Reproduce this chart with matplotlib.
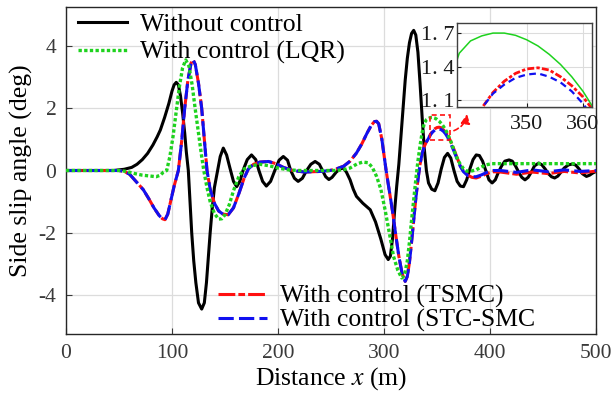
import numpy as np
import matplotlib
matplotlib.use("Agg")
import matplotlib.pyplot as plt
from matplotlib.patches import Rectangle

plt.rcParams['font.family'] = ['Liberation Serif', 'DejaVu Serif']
plt.rcParams['mathtext.fontset'] = 'stix'

# ---------------- data (distance m, side slip angle deg) ----------------
black_pts = [(0,0),(45,0),(55,0.04),(62,0.1),(67,0.2),(72,0.35),(77,0.55),(82,0.82),(86,1.08),(89,1.3),
    (93,1.7),(97,2.15),(100,2.55),(102,2.75),(104,2.83),(106,2.75),(108,2.4),(110,1.85),(112,1.2),(113.5,0.6),
    (115.4,0),(117,-1.0),(118.6,-2.0),(120.5,-2.9),(122.5,-3.6),(125,-4.25),(128,-4.45),(130.5,-4.25),(132.5,-3.6),
    (134.5,-2.7),(136,-2.0),(138,-1.2),(140,-0.55),(143,0.0),(145.5,0.45),(148.4,0.72),(151.5,0.5),(154.5,0.1),
    (158,-0.35),(161,-0.52),(164,-0.35),(167,0.0),(171,0.35),(175,0.5),(179,0.35),(182,0.0),(185.5,-0.35),
    (189,-0.5),(193,-0.35),(197,0.0),(201,0.33),(205,0.45),(209,0.33),(212,0.0),(215.5,-0.25),(219,-0.35),
    (223,-0.25),(227,0.0),(231,0.2),(235,0.29),(239,0.2),(242,0.0),(245,-0.2),(248,-0.29),(251,-0.22),
    (255,-0.05),(258.5,0.05),(261.6,0.08),(264.5,-0.05),(268,-0.3),(271,-0.6),(274,-0.83),(280,-1.05),
    (287,-1.26),(292,-1.65),(297,-2.2),(301,-2.7),(304,-2.86),(306,-2.75),(308,-2.2),(310,-1.3),(312,-0.5),
    (314,0.2),(316,1.1),(318,2.0),(320,2.9),(322,3.6),(324,4.1),(326,4.4),(328,4.5),(330,4.35),(332,3.8),
    (334,2.8),(336,1.7),(338,0.7),(340,0.0),(342,-0.4),(345,-0.6),(348,-0.65),(351,-0.4),(354,0.05),
    (357,0.42),(360,0.55),(363,0.4),(366,0.0),(369,-0.35),(372,-0.5),(375,-0.52),(378,-0.3),(381,0.05),
    (384,0.35),(387,0.5),(390,0.48),(393,0.3),(396,0.0),(399,-0.3),(402,-0.4),(405,-0.3),(408,-0.05),
    (411,0.15),(414,0.3),(418,0.34),(421,0.3),(424,0.15),(427,-0.05),(430,-0.22),(433,-0.3),(436,-0.22),
    (439,-0.05),(442,0.15),(446,0.24),(449,0.18),(452,0.05),(455,-0.1),(458,-0.2),(461,-0.24),(464,-0.18),
    (467,-0.05),(470,0.08),(474,0.18),(478,0.21),(481,0.17),(484,0.05),(487,-0.1),(491,-0.19),(494,-0.15),
    (497,-0.08),(500,-0.03)]

lqr_pts = [(0,0),(50,0),(57,-0.03),(65,-0.1),(72,-0.15),(80,-0.18),(85,-0.2),(89,-0.15),(92,-0.05),(95,0.0),
    (98,0.45),(101,1.1),(104,1.9),(107,2.7),(110,3.3),(113,3.55),(116,3.35),(119,2.75),(122,1.95),(125,1.2),
    (128,0.45),(130,0.0),(133,-0.55),(136,-1.0),(140,-1.38),(144,-1.56),(147,-1.55),(150,-1.42),(154,-1.1),
    (158,-0.65),(163,-0.2),(168,0.05),(175,0.15),(183,0.2),(192,0.15),(200,0.08),(210,0.02),(220,0.0),
    (240,0.0),(255,0.0),(262,0.03),(268,0.08),(275,0.22),(280,0.27),(285,0.25),(289,0.1),(293,-0.19),
    (297,-0.6),(301,-1.26),(305,-2.0),(309,-2.76),(313,-3.2),(316.7,-3.45),(318,-3.42),(320,-3.25),
    (322,-2.9),(324,-2.3),(326,-1.6),(328,-0.95),(330,-0.3),(332,0.3),(334,0.8),(336,1.22),(338,1.52),
    (340,1.63),(342,1.675),(344,1.70),(346,1.70),(348,1.68),(350,1.64),(352,1.585),(354,1.51),(356,1.42),
    (358,1.31),(360,1.18),(362,1.02),(364,0.85),(366,0.65),(368,0.47),(370,0.32),(372,0.2),(375,0.06),
    (378,-0.02),(382,-0.02),(387,0.02),(391,0.1),(396,0.18),(402,0.22),(450,0.22),(500,0.22)]

tsmc_pts = [(0,0),(50,0),(55,-0.03),(60,-0.12),(66,-0.35),(73,-0.62),(78,-0.9),(83,-1.2),(88,-1.45),(91,-1.55),
    (93.4,-1.58),(96,-1.4),(99,-0.95),(102,-0.5),(106,0.0),(109,0.9),(112,2.0),(115,2.9),(118,3.45),(120,3.55),
    (122,3.4),(125,2.8),(128,2.0),(130.5,1.0),(133,0.0),(136,-0.6),(140,-1.05),(144,-1.3),(148,-1.4),
    (153,-1.42),(158,-1.2),(163,-0.75),(168,-0.25),(172,0.05),(177,0.2),(183,0.27),(191,0.29),(198,0.22),
    (205,0.1),(214,0.0),(225,-0.05),(240,-0.03),(249,0.0),(255,0.05),(262,0.14),(268,0.3),(274,0.56),
    (279,0.85),(284,1.2),(288,1.45),(291,1.57),(293,1.58),(295,1.5),(298,1.0),(300,0.5),(302,0.0),
    (305,-0.65),(308,-1.3),(311,-2.05),(314,-2.75),(317,-3.3),(320,-3.56),(322,-3.4),(324,-2.95),
    (326,-2.3),(328,-1.6),(330,-0.9),(332,-0.3),(334,0.2),(336,0.55),(338,0.77),(340,0.92),(342,1.03),
    (344,1.17),(346,1.27),(348,1.34),(350,1.38),(352,1.39),(354,1.37),(356,1.31),(358,1.23),(360,1.13),
    (362,1.0),(364,0.85),(366,0.68),(368,0.5),(370,0.32),(372,0.15),(375,-0.02),(379,-0.15),(383,-0.22),
    (387,-0.24),(392,-0.18),(397,-0.1),(403,-0.04),(410,-0.05),(425,-0.12),(440,-0.05),(455,-0.1),
    (470,-0.03),(485,-0.08),(500,-0.02)]

stc_pts = [(0,0),(50,0),(55,-0.03),(60,-0.12),(66,-0.35),(73,-0.62),(78,-0.9),(83,-1.2),(88,-1.45),(91,-1.55),
    (93.4,-1.58),(96,-1.4),(99,-0.95),(102,-0.5),(106,0.0),(109,0.9),(112,2.0),(115,2.9),(118,3.45),(120,3.55),
    (122,3.4),(125,2.8),(128,2.0),(130.5,1.0),(133,0.0),(136,-0.6),(140,-1.05),(144,-1.3),(148,-1.4),
    (153,-1.42),(158,-1.2),(163,-0.75),(168,-0.25),(172,0.05),(177,0.2),(183,0.27),(191,0.29),(198,0.22),
    (205,0.1),(214,0.0),(225,-0.05),(240,-0.03),(249,0.0),(255,0.05),(262,0.14),(268,0.3),(274,0.56),
    (279,0.85),(284,1.2),(288,1.45),(291,1.57),(293,1.58),(295,1.5),(298,1.0),(300,0.5),(302,0.0),
    (305,-0.65),(308,-1.3),(311,-2.05),(314,-2.75),(317,-3.3),(320,-3.56),(322,-3.4),(324,-2.95),
    (326,-2.3),(328,-1.6),(330,-0.9),(332,-0.3),(334,0.2),(336,0.55),(338,0.77),(340,0.92),(342,1.03),
    (344,1.16),(346,1.24),(348,1.3),(350,1.33),(352,1.34),(354,1.31),(356,1.26),(358,1.18),(360,1.07),
    (362,0.93),(364,0.78),(366,0.62),(368,0.45),(370,0.29),(372,0.13),(375,-0.04),(379,-0.16),(383,-0.2),
    (387,-0.2),(392,-0.14),(397,-0.06),(403,0.0),(410,0.0),(425,-0.06),(440,0.02),(455,-0.04),
    (470,0.02),(485,-0.03),(500,0.0)]

labels = ["Without control", "With control (LQR)", "With control (TSMC)", "With control (STC-SMC"]
x_ticks = [0, 100, 200, 300, 400, 500]
y_ticks = [-4, -2, 0, 2, 4]
inset_xticks = [350, 360]
inset_yticks = [1.1, 1.4, 1.7]
inset_ylabels = ["1. 1", "1. 4", "1. 7"]

bx, by = np.array(black_pts).T
gx, gy = np.array(lqr_pts).T
rx, ry = np.array(tsmc_pts).T
ux, uy = np.array(stc_pts).T

GREEN = '#1ed21e'
RED = '#ff1010'
BLUE = '#1010f0'

fig = plt.figure(figsize=(6.13, 3.99), dpi=100)
ax = fig.add_axes([66/613, (399-334)/399, 530/613, 327/399])

l_black, = ax.plot(bx, by, color='black', lw=2.2, zorder=3, label=labels[0])
l_red, = ax.plot(rx, ry, color=RED, lw=2.2, dashes=(5.5, 1.0, 2.2, 1.0), zorder=4, label=labels[2])
l_blue, = ax.plot(ux, uy, color=BLUE, lw=2.2, dashes=(5, 1.7), zorder=5, label=labels[3])
l_green, = ax.plot(gx, gy, color=GREEN, lw=2.4, dashes=(1, 0.7), zorder=6, label=labels[1])

ax.set_xlim(0, 500)
ax.set_ylim(-5.25, 5.25)
ax.set_xticks(x_ticks)
ax.set_yticks(y_ticks)
ax.set_yticklabels([str(v) for v in y_ticks])
ax.grid(True, color='#dcdcdc', lw=0.9)
ax.set_axisbelow(True)
ax.tick_params(direction='in', length=4, colors='#3a3a3a', labelsize=15.5, pad=7)
for s in ax.spines.values():
    s.set_color('#262626')
    s.set_linewidth(1.0)
ax.set_xlabel('Distance $x$ (m)', fontsize=18.5, labelpad=2)
ax.set_ylabel('Side slip angle (deg)', fontsize=18.5, labelpad=4)

leg1 = ax.legend(handles=[l_black, l_green], loc='upper left', bbox_to_anchor=(0.0226, 0.982),
                 frameon=False, fontsize=18.5, handlelength=1.9, handletextpad=0.5,
                 borderpad=0, borderaxespad=0, labelspacing=0.2)
ax.add_artist(leg1)
leg2 = ax.legend(handles=[l_red, l_blue], loc='upper left', bbox_to_anchor=(0.287, 0.15),
                 frameon=False, fontsize=18.5, handlelength=1.9, handletextpad=0.5,
                 borderpad=0, borderaxespad=0, labelspacing=0.02)

# zoom box and arrow
ax.add_patch(Rectangle((343.4, 0.98), 18.9, 0.8, fill=False, ec=RED, lw=1.2, ls=(0, (3, 2)), zorder=7))
ax.annotate('', xy=(378.5, 1.9), xytext=(363.5, 1.25),
            arrowprops=dict(arrowstyle='-|>', color=RED, lw=1.2, ls=(0, (3, 2)),
                            connectionstyle='arc3,rad=0.35', mutation_scale=14), zorder=8)

# inset
axi = fig.add_axes([457/613, (399-107)/399, 135/613, 84/399])
axi.plot(bx, by, color='black', lw=1.5)
axi.plot(rx, ry, color=RED, lw=2.0, dashes=(2.5, 0.8, 1.2, 0.8))
axi.plot(ux, uy, color=BLUE, lw=1.6, dashes=(3, 2))
axi.plot(gx, gy, color=GREEN, lw=1.1)
axi.set_xlim(337.6, 361.6)
axi.set_ylim(1.04, 1.79)
axi.set_xticks(inset_xticks)
axi.set_yticks(inset_yticks)
axi.set_yticklabels(inset_ylabels)
axi.grid(True, color='#dcdcdc', lw=0.8)
axi.set_axisbelow(True)
axi.tick_params(direction='in', length=3, colors='#1a1a1a', labelsize=16, pad=2)
axi.tick_params(axis='x', pad=6)
for s in axi.spines.values():
    s.set_color('#404040')
    s.set_linewidth(1.0)

fig.savefig('out.png', dpi=100, facecolor='white')
